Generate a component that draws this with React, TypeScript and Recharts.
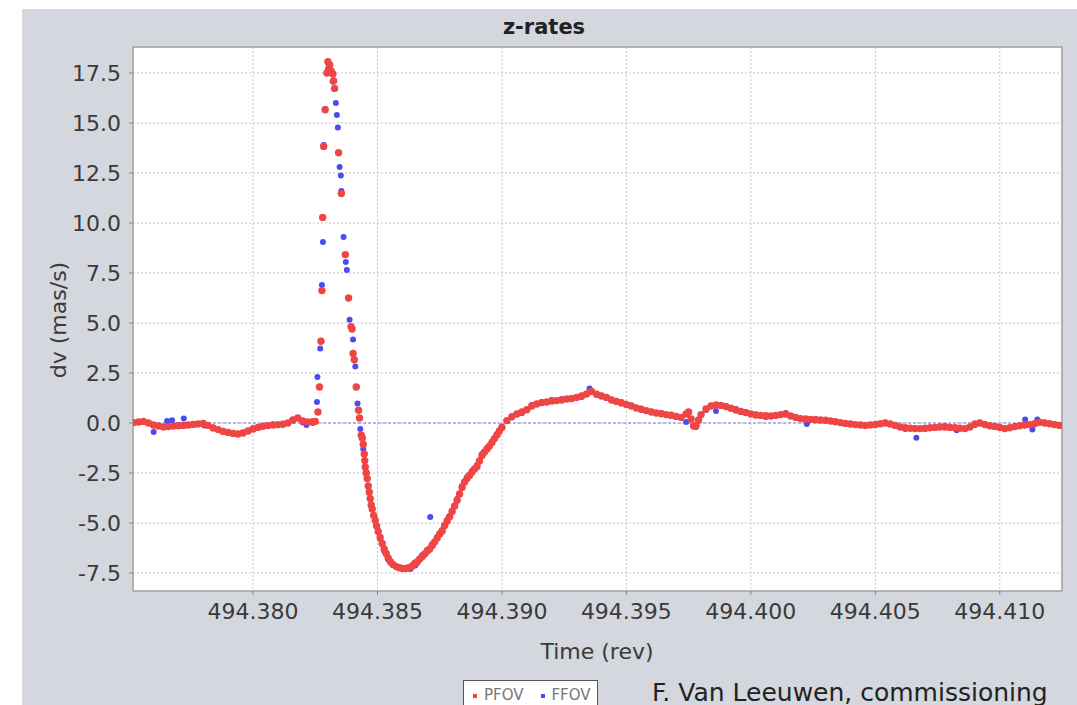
import React from 'react';
import { ScatterChart, Scatter, XAxis, YAxis, CartesianGrid, ReferenceLine, ReferenceArea } from 'recharts';

const CHART_TITLE = 'z-rates';
const X_LABEL = 'Time (rev)';
const Y_LABEL = 'dv (mas/s)';
const CREDIT = 'F. Van Leeuwen, commissioning';
const SERIES_NAMES = ['PFOV', 'FFOV'];
const X_TICKS = [494.38, 494.385, 494.39, 494.395, 494.4, 494.405, 494.41];
const Y_TICKS = [-7.5, -5, -2.5, 0, 2.5, 5, 7.5, 10, 12.5, 15, 17.5];
const X_DOMAIN: [number, number] = [494.37518, 494.4125];
const Y_DOMAIN: [number, number] = [-8.4, 18.8];

// PFOV: [time (rev), dv (mas/s)]
const pfovPoints: [number, number][] = [
  [494.3752, 0.02], [494.3754, 0.05], [494.3756, 0.08], [494.3758, 0.0], [494.376, -0.1], [494.3762, -0.15],
  [494.3764, -0.2], [494.3766, -0.18], [494.3768, -0.15], [494.377, -0.14], [494.3772, -0.12], [494.3774, -0.1],
  [494.3776, -0.07], [494.3778, -0.05], [494.378, -0.02], [494.3782, -0.12], [494.3784, -0.25], [494.3786, -0.33],
  [494.3788, -0.42], [494.379, -0.47], [494.3792, -0.52], [494.3794, -0.55], [494.3796, -0.5], [494.3798, -0.4],
  [494.38, -0.3], [494.3802, -0.22], [494.3804, -0.16], [494.3806, -0.13], [494.3808, -0.1], [494.381, -0.08],
  [494.3812, -0.06], [494.3814, 0.0], [494.3816, 0.15], [494.3818, 0.25], [494.382, 0.1], [494.3822, 0.05],
  [494.3824, 0.06], [494.3825, 0.08],
  [494.38261, 0.55], [494.38267, 1.8], [494.38273, 4.09], [494.38277, 6.62], [494.3828, 10.28], [494.38284, 13.83],
  [494.3829, 15.66], [494.38297, 17.5], [494.38301, 18.06], [494.38304, 17.7], [494.38308, 17.9], [494.38314, 17.6],
  [494.38321, 17.45], [494.38324, 17.1], [494.38328, 16.73], [494.38344, 13.51], [494.38355, 11.48], [494.38371, 8.42],
  [494.38384, 6.25], [494.38394, 4.82], [494.38398, 4.7], [494.38402, 3.48], [494.38407, 3.16], [494.38415, 1.8],
  [494.38424, 0.64], [494.38428, 0.25], [494.38435, -0.61],
  [494.38439, -0.75], [494.38443, -1.06], [494.38447, -1.55], [494.38449, -1.88], [494.38451, -2.2], [494.38455, -2.5],
  [494.38459, -2.78], [494.38463, -3.15], [494.38467, -3.45], [494.38471, -3.78], [494.38475, -4.1], [494.38479, -4.3],
  [494.38485, -4.62], [494.38491, -4.86], [494.38497, -5.15], [494.38503, -5.42], [494.38511, -5.72], [494.38519, -6.02],
  [494.38527, -6.3], [494.38535, -6.52], [494.38543, -6.75], [494.38553, -6.95], [494.38563, -7.08], [494.38576, -7.18],
  [494.38588, -7.24], [494.386, -7.27],
  [494.3861, -7.28], [494.3862, -7.26], [494.3863, -7.22], [494.3864, -7.15], [494.3865, -7.02], [494.3866, -6.93],
  [494.3867, -6.8], [494.3868, -6.68], [494.3869, -6.55], [494.387, -6.4], [494.3871, -6.3], [494.3872, -6.12],
  [494.3873, -5.95], [494.3874, -5.75], [494.3875, -5.55], [494.3876, -5.4], [494.3877, -5.12], [494.3878, -4.9],
  [494.3879, -4.68], [494.388, -4.42], [494.3881, -4.15], [494.3882, -3.86], [494.3883, -3.55], [494.3884, -3.22],
  [494.3885, -2.95], [494.3886, -2.78], [494.3887, -2.62], [494.3888, -2.45], [494.3889, -2.3], [494.389, -2.18],
  [494.3891, -1.9], [494.3892, -1.62], [494.3893, -1.45], [494.3894, -1.3], [494.3895, -1.15], [494.3896, -0.98],
  [494.3897, -0.78], [494.3898, -0.6], [494.3899, -0.4], [494.39, -0.22],
  [494.3902, 0.12], [494.3904, 0.32], [494.3906, 0.45], [494.3908, 0.55], [494.391, 0.66], [494.3912, 0.85],
  [494.3914, 0.95], [494.3916, 1.02], [494.3918, 1.05], [494.392, 1.1], [494.3922, 1.12], [494.3924, 1.15],
  [494.3926, 1.2], [494.3928, 1.22], [494.393, 1.28], [494.3932, 1.35], [494.3934, 1.45], [494.3936, 1.58],
  [494.3938, 1.44], [494.394, 1.35], [494.3942, 1.28], [494.3944, 1.15], [494.3946, 1.08], [494.3948, 1.0],
  [494.395, 0.93], [494.3952, 0.85], [494.3954, 0.75], [494.3956, 0.68], [494.3958, 0.62], [494.396, 0.55],
  [494.3962, 0.5], [494.3964, 0.46], [494.3966, 0.42], [494.3968, 0.38], [494.397, 0.33], [494.3972, 0.28],
  [494.3974, 0.45], [494.3975, 0.55], [494.3976, 0.2], [494.3977, -0.15], [494.3978, -0.12], [494.3979, 0.15],
  [494.398, 0.42], [494.3982, 0.7], [494.3984, 0.85], [494.3986, 0.9], [494.3988, 0.88], [494.399, 0.82],
  [494.3992, 0.74], [494.3994, 0.65], [494.3996, 0.58], [494.3998, 0.52], [494.4, 0.45], [494.4002, 0.4],
  [494.4004, 0.38], [494.4006, 0.36], [494.4008, 0.35], [494.401, 0.38], [494.4012, 0.42], [494.4014, 0.45],
  [494.4016, 0.35], [494.4018, 0.28], [494.402, 0.22], [494.4022, 0.2], [494.4024, 0.18], [494.4026, 0.16],
  [494.4028, 0.15], [494.403, 0.14], [494.4032, 0.1], [494.4034, 0.06], [494.4036, 0.02], [494.4038, -0.02],
  [494.404, -0.05], [494.4042, -0.08], [494.4044, -0.1], [494.4046, -0.12], [494.4048, -0.1], [494.405, -0.08],
  [494.4052, -0.04], [494.4054, 0.0], [494.4056, -0.05], [494.4058, -0.12], [494.406, -0.2], [494.4062, -0.24],
  [494.4064, -0.26], [494.4066, -0.28], [494.4068, -0.28], [494.407, -0.26], [494.4072, -0.24], [494.4074, -0.22],
  [494.4076, -0.2], [494.4078, -0.2], [494.408, -0.22], [494.4082, -0.24], [494.4084, -0.26], [494.4086, -0.28],
  [494.4088, -0.2], [494.409, -0.05], [494.4092, 0.0], [494.4094, -0.08], [494.4096, -0.14], [494.4098, -0.17],
  [494.41, -0.22], [494.4102, -0.28], [494.4104, -0.24], [494.4106, -0.18], [494.4108, -0.14], [494.411, -0.1],
  [494.4112, -0.08], [494.4114, -0.04], [494.4116, 0.04], [494.4118, 0.0], [494.412, -0.04], [494.4122, -0.08],
  [494.4124, -0.12],
];

// FFOV: [time (rev), dv (mas/s)]
const ffovPoints: [number, number][] = [
  [494.3752, 0.0], [494.3756, 0.05], [494.37601, -0.45], [494.3762, -0.12], [494.37655, 0.1], [494.37675, 0.14],
  [494.377, -0.1], [494.37722, 0.22], [494.3776, -0.05], [494.378, 0.0], [494.37805, -0.12], [494.3784, -0.22],
  [494.3788, -0.4], [494.3792, -0.5], [494.3796, -0.48], [494.38, -0.28], [494.3804, -0.15], [494.3808, -0.08],
  [494.3812, -0.04], [494.3816, 0.12], [494.382, 0.02], [494.38215, -0.1], [494.3824, 0.0],
  [494.38257, 1.05], [494.38259, 2.3], [494.3827, 3.73], [494.38277, 6.9], [494.38281, 9.05], [494.38284, 13.9],
  [494.3829, 15.7], [494.38301, 17.5], [494.3831, 17.65], [494.3832, 17.07], [494.38333, 16.0], [494.38337, 15.4],
  [494.38341, 14.78], [494.38348, 12.8], [494.38353, 12.38], [494.38355, 11.6], [494.38364, 9.3], [494.38373, 8.05],
  [494.38377, 7.65], [494.38388, 5.16], [494.38402, 4.18], [494.38411, 2.82], [494.3842, 0.97], [494.38431, -0.3],
  [494.38443, -1.3], [494.38455, -2.45], [494.38467, -3.5], [494.38479, -4.3], [494.38495, -5.1], [494.38511, -5.8],
  [494.38527, -6.4], [494.38545, -6.85], [494.38565, -7.1], [494.38585, -7.22], [494.38633, -7.3], [494.38652, -7.12],
  [494.3866, -7.0], [494.3868, -6.6], [494.387, -6.35], [494.38712, -4.7], [494.3872, -6.05], [494.3874, -5.7],
  [494.3876, -5.35], [494.3878, -4.85], [494.388, -4.38], [494.3882, -3.8], [494.3884, -3.15], [494.3886, -2.7],
  [494.3888, -2.4], [494.389, -2.1], [494.3892, -1.55], [494.3894, -1.25], [494.3896, -0.92], [494.3898, -0.55],
  [494.39, -0.18],
  [494.3904, 0.28], [494.3908, 0.5], [494.3912, 0.9], [494.3916, 1.05], [494.392, 1.15], [494.3924, 1.2],
  [494.3928, 1.25], [494.3932, 1.3], [494.39352, 1.72], [494.394, 1.38], [494.3944, 1.18], [494.3948, 1.05],
  [494.3952, 0.88], [494.3956, 0.72], [494.396, 0.58], [494.3964, 0.5], [494.3968, 0.42], [494.3972, 0.3],
  [494.3974, 0.05], [494.3978, -0.2], [494.3982, 0.65], [494.3986, 0.6], [494.399, 0.85], [494.3994, 0.7],
  [494.3998, 0.55], [494.4002, 0.42], [494.4006, 0.3], [494.401, 0.4], [494.4014, 0.5], [494.4018, 0.3],
  [494.4022, 0.15], [494.40225, -0.05], [494.4026, 0.2], [494.403, 0.12], [494.4034, 0.08], [494.4038, -0.05],
  [494.4042, -0.1], [494.4046, -0.1], [494.405, -0.05], [494.4054, 0.02], [494.4058, -0.15], [494.4062, -0.3],
  [494.4066, -0.25], [494.40665, -0.74], [494.407, -0.3], [494.4074, -0.2], [494.4078, -0.15], [494.40827, -0.36],
  [494.4086, -0.3], [494.409, -0.1], [494.4094, -0.05], [494.4098, -0.2], [494.4102, -0.3], [494.4106, -0.15],
  [494.41102, 0.18], [494.411, -0.05], [494.41131, -0.33], [494.41151, 0.18], [494.4118, 0.02], [494.4122, -0.05],
  [494.4124, -0.15],
];

const RED = '#ef4545';
const BLUE = '#4b4bf2';
const FONT = '"DejaVu Sans", Verdana, sans-serif';
const TEXT = '#3a3a3a';

const pfovData = pfovPoints.map(([t, v]) => ({ t, v }));
const ffovData = ffovPoints.map(([t, v]) => ({ t, v }));

const RedDot = (props: any) => <circle cx={props.cx} cy={props.cy} r={3.7} fill={RED} />;
const BlueDot = (props: any) => <circle cx={props.cx} cy={props.cy} r={3} fill={BLUE} />;

export default function App() {
  return (
    <div
      style={{
        position: 'fixed',
        left: 22,
        top: 9,
        width: 1055,
        height: 696,
        background: '#d4d7dd',
        overflow: 'hidden',
        fontFamily: FONT,
      }}
    >
      <ScatterChart width={1055} height={696} margin={{ top: 38, right: 15, left: 0, bottom: 0 }}>
        <CartesianGrid fill="#ffffff" stroke="#c4c4c4" strokeDasharray="2 2" />
        <XAxis
          dataKey="t"
          type="number"
          domain={X_DOMAIN}
          ticks={X_TICKS}
          allowDataOverflow
          tickFormatter={(v: number) => v.toFixed(3)}
          height={114}
          axisLine={false}
          tickLine={{ stroke: '#8a8a8a' }}
          tickSize={4}
          tickMargin={8}
          tick={{ fontSize: 22, fill: TEXT, fontFamily: FONT }}
        />
        <YAxis
          dataKey="v"
          type="number"
          domain={Y_DOMAIN}
          ticks={Y_TICKS}
          allowDataOverflow
          tickFormatter={(v: number) => v.toFixed(1)}
          width={111}
          axisLine={false}
          tickLine={{ stroke: '#8a8a8a' }}
          tickSize={4}
          tickMargin={8}
          tick={{ fontSize: 22, fill: TEXT, fontFamily: FONT }}
        />
        <ReferenceLine y={0} stroke="#7b7bf0" strokeDasharray="3 2" />
        <ReferenceArea
          x1={X_DOMAIN[0]}
          x2={X_DOMAIN[1]}
          y1={Y_DOMAIN[0]}
          y2={Y_DOMAIN[1]}
          fill="none"
          fillOpacity={0}
          stroke="#a2a2a2"
          strokeWidth={1.5}
        />
        <Scatter name={SERIES_NAMES[1]} data={ffovData} shape={BlueDot} isAnimationActive={false} />
        <Scatter name={SERIES_NAMES[0]} data={pfovData} shape={RedDot} isAnimationActive={false} />
      </ScatterChart>

      <div
        style={{
          position: 'absolute',
          left: 522,
          top: 18,
          transform: 'translate(-50%, -50%)',
          fontSize: 21,
          fontWeight: 'bold',
          color: '#222',
          whiteSpace: 'nowrap',
        }}
      >
        {CHART_TITLE}
      </div>
      <div
        style={{
          position: 'absolute',
          left: 36,
          top: 311,
          transform: 'translate(-50%, -50%) rotate(-90deg)',
          fontSize: 22,
          color: TEXT,
          whiteSpace: 'nowrap',
        }}
      >
        {Y_LABEL}
      </div>
      <div
        style={{
          position: 'absolute',
          left: 575,
          top: 642,
          transform: 'translate(-50%, -50%)',
          fontSize: 22,
          color: TEXT,
          whiteSpace: 'nowrap',
        }}
      >
        {X_LABEL}
      </div>
      <div
        style={{
          position: 'absolute',
          left: 441,
          top: 671,
          width: 135,
          height: 32,
          background: '#ffffff',
          border: '1px solid #555',
          display: 'flex',
          alignItems: 'flex-start',
          paddingTop: 5,
          boxSizing: 'border-box',
          fontSize: 15,
          color: '#777',
          whiteSpace: 'nowrap',
        }}
      >
        <span style={{ display: 'inline-block', width: 4, height: 4, background: RED, marginLeft: 9, marginTop: 8, marginRight: 7 }} />
        <span>{SERIES_NAMES[0]}</span>
        <span style={{ display: 'inline-block', width: 4, height: 4, background: BLUE, marginLeft: 18, marginTop: 8, marginRight: 6 }} />
        <span>{SERIES_NAMES[1]}</span>
      </div>
      <div
        style={{
          position: 'absolute',
          left: 630,
          top: 683,
          transform: 'translateY(-50%)',
          fontSize: 25,
          color: '#222',
          whiteSpace: 'nowrap',
        }}
      >
        {CREDIT}
      </div>
    </div>
  );
}
